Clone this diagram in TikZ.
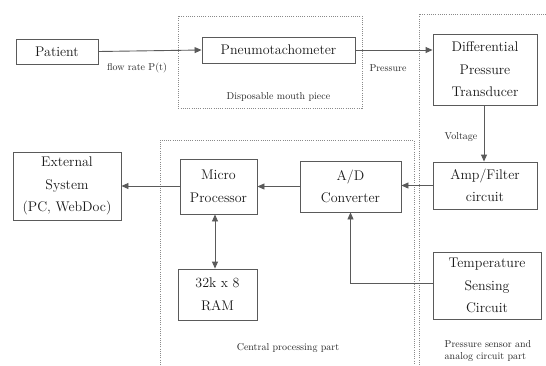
\documentclass[tikz,border=0pt]{standalone}
\usetikzlibrary{arrows.meta}
\definecolor{linegray}{HTML}{5A5A5A}
\definecolor{dotgray}{HTML}{8A8A8A}
\tikzset{
  box/.style={draw=linegray, line width=0.9pt, rectangle, inner sep=0pt, align=center,
    font=\fontsize{14}{22.5}\selectfont, text=black!90},
  lbl/.style={font=\fontsize{10}{12}\selectfont, text=black!85, inner sep=0pt},
  conn/.style={draw=linegray, line width=0.9pt, -{Triangle[length=7pt,width=6pt]}},
  dconn/.style={draw=linegray, line width=0.9pt, {Triangle[length=7pt,width=6pt]}-{Triangle[length=7pt,width=6pt]}},
  zone/.style={draw=dotgray, line width=0.8pt, dash pattern=on 1pt off 1.2pt}
}
\begin{document}
\begin{tikzpicture}[x=1pt,y=-1pt]
\useasboundingbox[fill=white] (0,0) rectangle (546,365);
% zones
\draw[zone] (178,16) rectangle (362,108);
\draw[zone] (160,365) -- (160,140) -- (414,140) -- (414,365);
\draw[zone] (419,365) -- (419,14) -- (546,14);
% boxes
\node[box, minimum width=82pt, minimum height=25pt] (patient) at (57,51.5) {Patient};
\node[box, minimum width=153pt, minimum height=26pt] (pneumo) at (278.5,50) {Pneumotachometer};
\node[box, minimum width=104pt, minimum height=71pt] (diff) at (485,69.5) {Differential\\Pressure\\Transducer};
\node[box, minimum width=104pt, minimum height=47pt] (amp) at (485,185.5) {Amp/Filter\\circuit};
\node[box, minimum width=101pt, minimum height=51pt] (ad) at (350.5,186.5) {A/D\\Converter};
\node[box, minimum width=77pt, minimum height=55pt] (micro) at (218.5,186.5) {Micro\\Processor};
\node[box, minimum width=108pt, minimum height=68pt] (ext) at (67,186) {External\\System\\(PC, WebDoc)};
\node[box, minimum width=79pt, minimum height=51pt] (ram) at (217.5,294.5) {32k x 8\\RAM};
\node[box, minimum width=108pt, minimum height=67pt] (temp) at (487,285.5) {Temperature\\Sensing\\Circuit};
% labels
\node[lbl] (flow) at (137,68) {flow rate P(t)};
\node[lbl] (press) at (388,68) {Pressure};
\node[lbl] (volt) at (461,137) {Voltage};
\node[lbl] (disp) at (278.5,97) {Disposable mouth piece};
\node[lbl] (cpp) at (288,348) {Central processing part};
\node[lbl, align=left, font=\fontsize{10}{12}\selectfont] (psa) at (488,351) {Pressure sensor and\\analog circuit part};
% connectors
\draw[conn] (patient.east) -- (pneumo.west);
\draw[conn] (pneumo.east) -- (diff.west |- pneumo.east);
\draw[conn] (diff.south -| 484,0) -- (amp.north -| 484,0);
\draw[conn] (amp.west) -- (ad.east |- amp.west);
\draw[conn] (ad.west) -- (micro.east |- ad.west);
\draw[conn] (micro.west |- ext.east) -- (ext.east);
\draw[dconn] (micro.south -| 215,0) -- (ram.north -| 215,0);
\draw[conn] (temp.west |- 0,283) -| (ad.south);
\end{tikzpicture}
\end{document}
